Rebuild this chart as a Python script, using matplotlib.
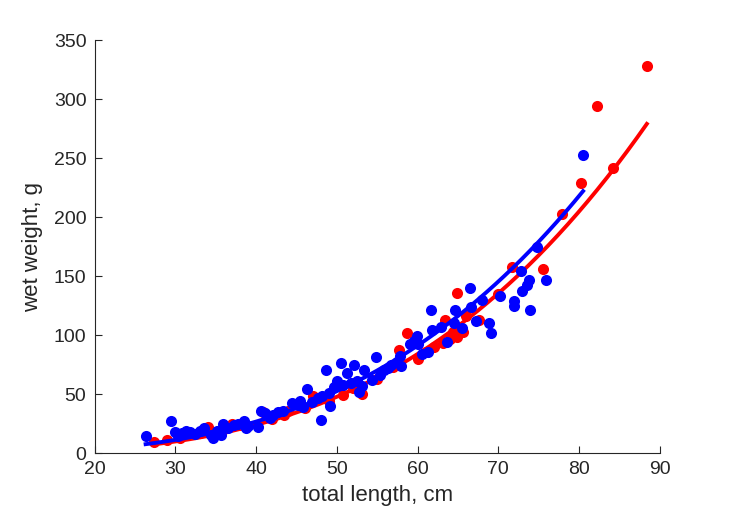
import numpy as np
import matplotlib
matplotlib.use("Agg")
import matplotlib.pyplot as plt

# pontos azuis (comprimento total, peso umido)
azul_x = [26.3, 29.4, 29.9, 30.3, 30.8, 31.3, 31.8, 32.4, 33.0, 33.5, 34.4, 34.6, 35.1, 35.6,
          35.9, 36.5, 37.3, 37.8, 38.5, 38.7, 39.0, 40.2, 40.6, 41.1, 41.7, 42.1, 42.7, 43.3,
          44.4, 45.2, 45.4, 45.8, 46.3, 46.9, 47.6, 48.0, 48.2, 48.7, 49.0, 49.2, 49.7, 50.0,
          50.5, 50.7, 51.3, 51.7, 52.1, 52.5, 52.7, 53.1, 53.3, 54.4, 54.8, 55.3, 55.8, 56.3,
          56.7, 57.4, 57.9, 57.8, 59.0, 59.5, 59.9, 60.0, 60.5, 61.3, 61.6, 61.8, 62.9, 63.7,
          64.5, 64.6, 65.5, 66.5, 66.6, 67.2, 68.0, 68.8, 69.1, 70.2, 71.9, 72.0, 72.8, 72.9,
          73.5, 73.8, 73.9, 74.8, 75.9, 80.5]
azul_y = [14, 27, 18, 14, 17, 19, 18, 16, 19, 21, 15, 13, 19, 15,
          25, 21, 24, 25, 27, 21, 23, 22, 36, 34, 30, 32, 35, 36,
          42, 41, 44, 39, 54, 43, 47, 28, 48, 70, 51, 40, 56, 61,
          76, 58, 68, 59, 75, 61, 52, 57, 70, 62, 81, 66, 70, 72,
          75, 77, 74, 82, 92, 95, 99, 92, 84, 86, 121, 104, 107, 94,
          110, 121, 106, 140, 124, 112, 130, 110, 102, 133, 129, 125, 154, 137,
          142, 147, 121, 175, 147, 253]

# pontos vermelhos
verm_x = [27.4, 29.0, 30.5, 32.0, 33.0, 34.0, 36.0, 37.0, 38.0, 40.8, 42.0, 43.5, 44.0,
          46.0, 47.0, 49.0, 50.7, 52.0, 53.1, 55.0, 57.0, 57.7, 58.7, 60.0, 61.0, 62.0,
          63.1, 63.4, 64.0, 64.4, 64.9, 64.9, 65.6, 66.0, 67.6, 70.0, 71.7, 75.5,
          77.9, 80.3, 82.2, 84.2, 88.4]
verm_y = [9, 11, 13, 16, 17, 22, 20, 25, 24, 35, 29, 32, 36,
          38, 48, 44, 49, 55, 50, 63, 73, 87, 102, 80, 86, 90,
          93, 113, 97, 103, 98, 136, 103, 116, 113, 135, 158, 156,
          203, 229, 294, 242, 328]

# ajuste potencia W = a * L^b
b_azul = 3.03
a_azul = 222 / 80.5 ** b_azul
b_verm = 3.1
a_verm = 278 / 88.3 ** b_verm

plt.rcParams['font.family'] = ['Liberation Sans', 'DejaVu Sans']
cor_eixo = (0.15, 0.15, 0.15)

fig = plt.figure(figsize=(7.29, 5.21), dpi=100)
ax = fig.add_axes([0.130, 0.1305, 0.775, 0.7925])

lv = np.linspace(min(verm_x), max(verm_x), 200)
la = np.linspace(min(azul_x), max(azul_x), 200)

ax.scatter(verm_x, verm_y, s=64, color='red', linewidths=0, zorder=2)
ax.plot(lv, a_verm * lv ** b_verm, color='red', lw=2.8, zorder=3)
ax.scatter(azul_x, azul_y, s=64, color='blue', linewidths=0, zorder=4)
ax.plot(la, a_azul * la ** b_azul, color='blue', lw=2.8, zorder=5)

ax.set_xlim(20, 90)
ax.set_ylim(0, 350)
ax.set_xticks(range(20, 91, 10))
ax.set_yticks(range(0, 351, 50))
ax.spines['top'].set_visible(False)
ax.spines['right'].set_visible(False)
for s in ['left', 'bottom']:
    ax.spines[s].set_color(cor_eixo)
    ax.spines[s].set_linewidth(0.8)
ax.tick_params(direction='in', length=5, width=0.8, colors=cor_eixo, labelsize=14, pad=6)
ax.set_xlabel("total length, cm", fontsize=16, color=cor_eixo, labelpad=5)
ax.set_ylabel("wet weight, g", fontsize=16, color=cor_eixo, labelpad=8)

fig.savefig("out.png", dpi=100)
